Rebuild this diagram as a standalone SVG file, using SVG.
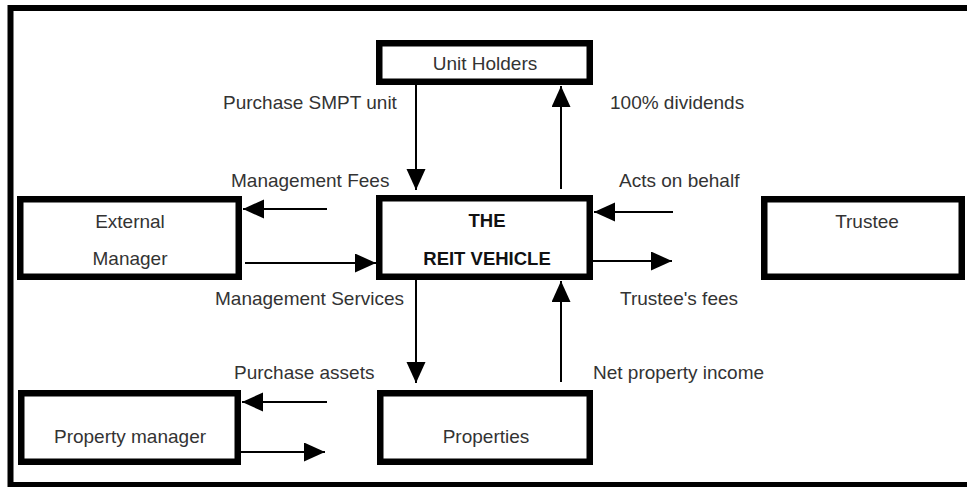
<svg xmlns="http://www.w3.org/2000/svg" width="967" height="487" viewBox="0 0 967 487">
  <defs>
    <style>
      .frame { fill: none; stroke: #000; stroke-width: 6; }
      .box { fill: #fff; stroke: #000; stroke-width: 6.5; }
      .lbl { font-family: "Liberation Sans", Arial, sans-serif; font-size: 19px; fill: #333; }
      .mid { text-anchor: middle; }
      .title { font-family: "Liberation Sans", Arial, sans-serif; font-size: 18.5px; font-weight: bold; fill: #111; text-anchor: middle; }
      .flow { fill: none; stroke: #000; stroke-width: 2; marker-end: url(#head); }
    </style>
    <marker id="head" markerUnits="userSpaceOnUse" markerWidth="22" markerHeight="20" refX="21" refY="9.5" orient="auto">
      <path d="M0,0 L21,9.5 L0,19 Z" fill="#000"/>
    </marker>
  </defs>

  <rect width="967" height="487" fill="#fff"/>
  <!-- outer border -->
  <rect class="frame" x="10.5" y="8" width="970" height="477"/>

  <!-- connectors -->
  <g id="connectors">
    <path class="flow" d="M416,85 V190"/>
    <path class="flow" d="M561,189 V86"/>
    <path class="flow" d="M327,209 H243"/>
    <path class="flow" d="M245,263 H376"/>
    <path class="flow" d="M673,212 H594"/>
    <path class="flow" d="M593,261 H672"/>
    <path class="flow" d="M416,280 V383"/>
    <path class="flow" d="M561,382 V281"/>
    <path class="flow" d="M327,402 H242"/>
    <path class="flow" d="M241,452 H325"/>
  </g>

  <!-- connector labels -->
  <g id="labels">
    <text class="lbl" x="223" y="109">Purchase SMPT unit</text>
    <text class="lbl" x="610" y="109">100% dividends</text>
    <text class="lbl" x="231" y="187">Management Fees</text>
    <text class="lbl" x="619" y="187">Acts on behalf</text>
    <text class="lbl" x="215" y="305">Management Services</text>
    <text class="lbl" x="620" y="305">Trustee's fees</text>
    <text class="lbl" x="234" y="379">Purchase assets</text>
    <text class="lbl" x="593" y="379">Net property income</text>
  </g>

  <g id="unit-holders">
    <rect class="box" x="379.25" y="43.25" width="210.5" height="38.5"/>
    <text class="lbl mid" x="485" y="70">Unit Holders</text>
  </g>

  <g id="reit-vehicle">
    <rect class="box" x="379.25" y="198.25" width="210.5" height="78.5"/>
    <text class="title" x="487" y="227">THE</text>
    <text class="title" x="487" y="265">REIT VEHICLE</text>
  </g>

  <g id="external-manager">
    <rect class="box" x="20.25" y="199.25" width="218.5" height="77.5"/>
    <text class="lbl mid" x="130" y="228">External</text>
    <text class="lbl mid" x="130" y="265">Manager</text>
  </g>

  <g id="trustee">
    <rect class="box" x="764.25" y="199.25" width="197.5" height="77.5"/>
    <text class="lbl mid" x="867" y="228">Trustee</text>
  </g>

  <g id="property-manager">
    <rect class="box" x="21.25" y="393.25" width="216.5" height="68.5"/>
    <text class="lbl mid" x="130" y="443">Property manager</text>
  </g>

  <g id="properties">
    <rect class="box" x="380.25" y="393.25" width="209.5" height="68.5"/>
    <text class="lbl mid" x="486" y="443">Properties</text>
  </g>
</svg>
